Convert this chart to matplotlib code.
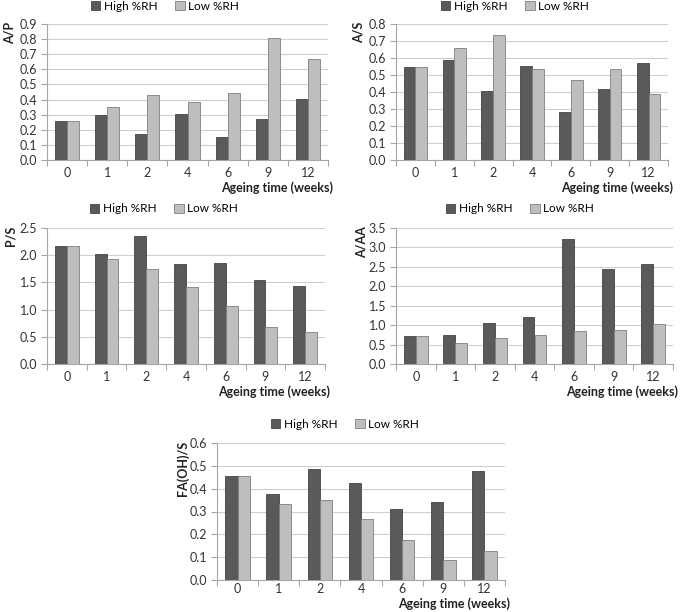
import matplotlib
matplotlib.use("Agg")
import matplotlib.pyplot as plt
from matplotlib.patches import Patch

plt.rcParams['font.family'] = ['Lato', 'DejaVu Sans']

weeks = ["0", "1", "2", "4", "6", "9", "12"]
series_names = ["High %RH", "Low %RH"]

ap_high = [0.255, 0.295, 0.174, 0.304, 0.154, 0.273, 0.403]
ap_low = [0.255, 0.348, 0.427, 0.383, 0.443, 0.810, 0.670]

as_high = [0.548, 0.589, 0.405, 0.552, 0.284, 0.415, 0.573]
as_low = [0.548, 0.661, 0.736, 0.538, 0.470, 0.538, 0.387]

ps_high = [2.16, 2.03, 2.36, 1.83, 1.86, 1.54, 1.44]
ps_low = [2.16, 1.93, 1.74, 1.41, 1.06, 0.68, 0.59]

aaa_high = [0.71, 0.74, 1.06, 1.20, 3.22, 2.45, 2.57]
aaa_low = [0.71, 0.53, 0.66, 0.74, 0.84, 0.87, 1.03]

fa_high = [0.455, 0.375, 0.487, 0.425, 0.312, 0.340, 0.479]
fa_low = [0.455, 0.332, 0.351, 0.266, 0.173, 0.088, 0.127]

W, H = 685, 612
DARK = "#5a5a5a"
LIGHT = "#bebebe"
EDGE = "#7f7f7f"
AXC = "#a6a6a6"

fig = plt.figure(figsize=(W / 100, H / 100), dpi=100)


def panel(l, r, t, b, high, low, ylabel, ymax, ystep, fmt, legx, legy, yloff, xloff, xpad):
    ax = fig.add_axes([l / W, 1 - b / H, (r - l) / W, (b - t) / H])
    x = list(range(len(weeks)))
    bw = 0.3
    ax.bar([i - bw / 2 for i in x], high, bw, color=DARK, edgecolor="#444444", linewidth=0.6, zorder=3)
    ax.bar([i + bw / 2 for i in x], low, bw, color=LIGHT, edgecolor=EDGE, linewidth=0.6, zorder=3)
    ax.set_xlim(-0.5, len(weeks) - 0.5)
    ax.set_ylim(0, ymax)
    n = int(round(ymax / ystep))
    yt = [k * ystep for k in range(n + 1)]
    ax.set_yticks(yt)
    ax.set_yticklabels([fmt.format(v) for v in yt], fontsize=9, color="#333333")
    ax.yaxis.grid(True, color="#cfcfcf", linewidth=0.8, zorder=0)
    ax.set_xticks([i - 0.5 for i in range(len(weeks) + 1)])
    ax.set_xticklabels([])
    ax.set_xticks(x, minor=True)
    ax.set_xticklabels(weeks, minor=True, fontsize=9, color="#333333")
    ax.tick_params(axis="x", which="major", length=4, color=AXC, direction="out")
    ax.tick_params(axis="x", which="minor", length=0, pad=xpad)
    ax.tick_params(axis="y", length=4, color=AXC, direction="out", pad=3)
    for s in ["top", "right"]:
        ax.spines[s].set_visible(False)
    for s in ["left", "bottom"]:
        ax.spines[s].set_color(AXC)
        ax.spines[s].set_linewidth(0.8)
    fig.text((l - yloff) / W, 1 - (t - 2) / H, ylabel, rotation=90, fontsize=9,
             fontweight="bold", ha="left", va="top", color="#222222")
    fig.text((r + 5) / W, 1 - (b + xloff) / H, "Ageing time (weeks)", fontsize=9,
             fontweight="bold", ha="right", va="center", color="#222222")
    handles = [Patch(facecolor=DARK, edgecolor="#444444", linewidth=0.6),
               Patch(facecolor=LIGHT, edgecolor=EDGE, linewidth=0.6)]
    fig.legend(handles, series_names, loc="center", bbox_to_anchor=(legx / W, 1 - legy / H),
               ncol=2, frameon=False, fontsize=8.5, handlelength=0.8, handleheight=0.8,
               handletextpad=0.3, columnspacing=1.5, borderaxespad=0)
    return ax


panel(47, 328, 24, 160, ap_high, ap_low, "A/P", 0.9, 0.1, "{:.1f}", 165, 6, 43, 28, 5)
panel(396, 668, 24, 160, as_high, as_low, "A/S", 0.8, 0.1, "{:.1f}", 515, 6, 43, 28, 5)
panel(47, 325, 228, 364, ps_high, ps_low, "P/S", 2.5, 0.5, "{:.1f}", 164, 209, 42, 28, 5)
panel(396, 673, 228, 364, aaa_high, aaa_low, "A/AA", 3.5, 0.5, "{:.1f}", 520, 209, 40, 28, 5)
panel(217, 505, 443, 580, fa_high, fa_low, "FA(OH)/S", 0.6, 0.1, "{:.1f}", 345, 424, 41, 24, 2)

fig.savefig("out.png", dpi=100, facecolor="white")
